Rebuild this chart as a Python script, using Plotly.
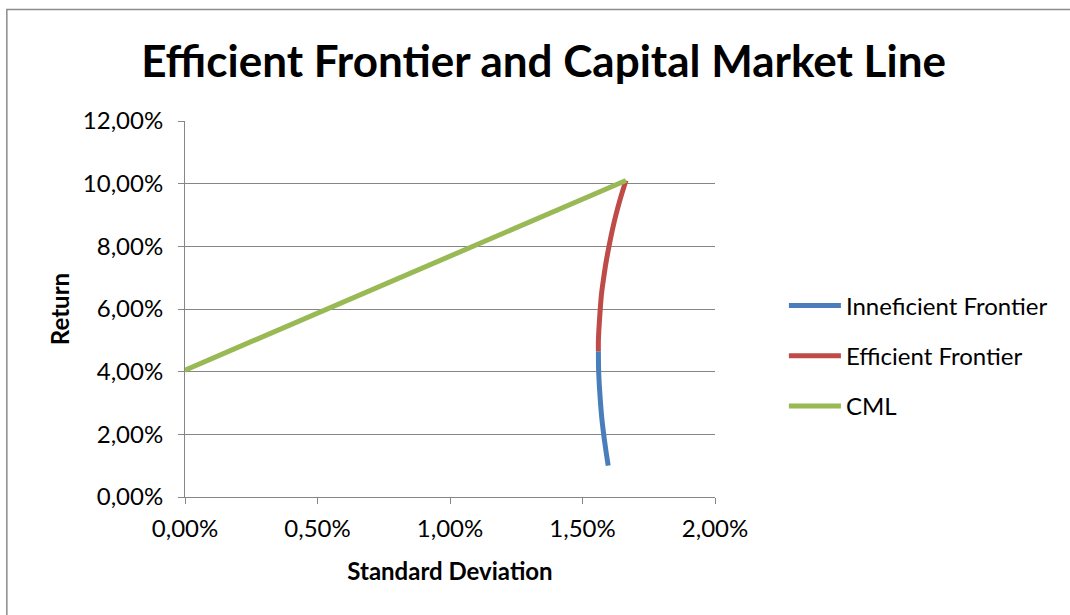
import plotly.graph_objects as go

# Inefficient part of the frontier (below the minimum-variance portfolio)
ineff_std = [0.01597, 0.01588, 0.01580, 0.01573, 0.01568, 0.01564, 0.01561, 0.01560]
ineff_ret = [0.0100, 0.0150, 0.0200, 0.0250, 0.0300, 0.0350, 0.0400, 0.0465]

# Efficient frontier (from minimum-variance portfolio to the tangency portfolio)
eff_std = [0.01560, 0.01560, 0.01563, 0.01567, 0.01572, 0.01580, 0.01589,
           0.01600, 0.01612, 0.01626, 0.01642, 0.01664]
eff_ret = [0.0465, 0.0500, 0.0550, 0.0600, 0.0650, 0.0700, 0.0750,
           0.0800, 0.0850, 0.0900, 0.0950, 0.1010]

# Capital market line: risk-free rate to tangency portfolio
cml_std = [0.0, 0.01664]
cml_ret = [0.0405, 0.1010]

x_ticks = [0.0, 0.005, 0.01, 0.015, 0.02]
y_ticks = [0.0, 0.02, 0.04, 0.06, 0.08, 0.10, 0.12]

FONT = "Lato"
GRID = "#868686"

fig = go.Figure()
fig.add_trace(go.Scatter(x=ineff_std, y=ineff_ret, mode="lines", name="Inneficient Frontier",
                         line=dict(color="#4A7EBB", width=5, shape="spline"), legendgroup="a"))
fig.add_trace(go.Scatter(x=eff_std, y=eff_ret, mode="lines", name="Efficient Frontier",
                         line=dict(color="#BE4B48", width=5, shape="spline"), legendgroup="b"))
fig.add_trace(go.Scatter(x=cml_std, y=cml_ret, mode="lines", name="CML",
                         line=dict(color="#98B954", width=5), legendgroup="c"))

fig.update_layout(
    width=1070, height=615,
    margin=dict(l=185, r=355, t=121, b=118),
    paper_bgcolor="white", plot_bgcolor="white",
    separators=",.",
    font=dict(family=FONT, color="black", size=24),
    title=dict(text="<b>Efficient Frontier and Capital Market Line</b>",
               x=0.508, xref="container", xanchor="center",
               y=1 - 62 / 615, yref="container", yanchor="middle",
               font=dict(family=FONT, size=44, color="black")),
    xaxis=dict(range=[0, 0.02], tickvals=x_ticks, tickformat=".2%",
               showgrid=False, zeroline=False, showline=True, linecolor=GRID, linewidth=1,
               ticks="outside", ticklen=6, tickcolor=GRID, ticklabelstandoff=4,
               title=dict(text="<b>Standard Deviation</b>", font=dict(size=24), standoff=22)),
    yaxis=dict(range=[0, 0.12], tickvals=y_ticks, tickformat=".2%",
               showgrid=True, gridcolor=GRID, gridwidth=1, zeroline=False,
               showline=True, linecolor=GRID, linewidth=1,
               ticks="outside", ticklen=6, tickcolor=GRID, ticklabelstandoff=10,
               title=dict(text="<b>Return</b>", font=dict(size=24), standoff=6)),
    legend=dict(x=1.13, y=0.375, xanchor="left", yanchor="middle",
                font=dict(family=FONT, size=24, color="black"),
                tracegroupgap=16, itemwidth=52, bgcolor="rgba(0,0,0,0)"),
    shapes=[dict(type="rect", xref="paper", yref="paper",
                 x0=(7.5 - 185.5) / 529.5, x1=(1080 - 185.5) / 529.5,
                 y0=(497 - 625) / 376, y1=(497 - 9.5) / 376,
                 line=dict(color="#8C8C8C", width=1.5), layer="below")],
)

fig.write_html("out.html")
